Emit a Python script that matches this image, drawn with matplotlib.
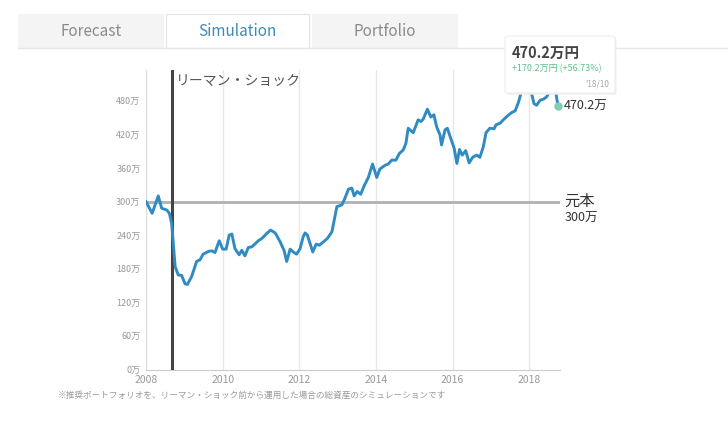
import matplotlib
matplotlib.use("Agg")
from matplotlib import pyplot as plt
from matplotlib.patches import Rectangle, FancyBboxPatch

plt.rcParams['font.family'] = ['Noto Sans CJK JP', 'DejaVu Sans']

# simulated total assets (万円)
years = [2008.00, 2008.16, 2008.32, 2008.41, 2008.54, 2008.61, 2008.67, 2008.76, 2008.84, 2008.93,
         2009.02, 2009.08, 2009.19, 2009.32, 2009.41, 2009.49, 2009.63, 2009.71, 2009.80, 2009.91,
         2010.00, 2010.09, 2010.17, 2010.24, 2010.32, 2010.43, 2010.50, 2010.58, 2010.67, 2010.76,
         2010.84, 2010.93, 2011.02, 2011.15, 2011.25, 2011.37, 2011.50, 2011.60, 2011.67, 2011.76,
         2011.84, 2011.93, 2012.02, 2012.10, 2012.15, 2012.21, 2012.35, 2012.44, 2012.52, 2012.63,
         2012.73, 2012.85, 2012.98, 2013.11, 2013.19, 2013.28, 2013.37, 2013.43, 2013.51, 2013.60,
         2013.69, 2013.80, 2013.91, 2014.02, 2014.10, 2014.24, 2014.32, 2014.41, 2014.52, 2014.61,
         2014.71, 2014.78, 2014.84, 2014.97, 2015.10, 2015.17, 2015.23, 2015.34, 2015.43, 2015.51,
         2015.58, 2015.67, 2015.71, 2015.80, 2015.86, 2015.95, 2016.04, 2016.11, 2016.18, 2016.25,
         2016.34, 2016.43, 2016.52, 2016.63, 2016.71, 2016.80, 2016.87, 2016.97, 2017.08, 2017.13,
         2017.24, 2017.32, 2017.43, 2017.54, 2017.63, 2017.72, 2017.78, 2017.89, 2017.97, 2018.02,
         2018.06, 2018.12, 2018.19, 2018.28, 2018.37, 2018.45, 2018.50, 2018.59, 2018.67, 2018.75]
values = [300, 279, 310, 288, 285, 279, 261, 184, 169, 168,
          153, 152, 166, 193, 196, 206, 211, 212, 209, 230,
          215, 215, 240, 242, 216, 205, 213, 203, 218, 219,
          224, 230, 234, 243, 249, 244, 228, 213, 193, 215,
          210, 206, 216, 237, 244, 240, 210, 224, 222, 228,
          234, 246, 291, 294, 306, 322, 324, 310, 318, 313,
          328, 343, 367, 343, 358, 365, 367, 374, 374, 386,
          392, 404, 431, 423, 446, 443, 447, 465, 451, 455,
          434, 419, 401, 428, 431, 413, 395, 368, 393, 383,
          391, 369, 379, 383, 379, 398, 423, 431, 430, 437,
          440, 446, 453, 459, 462, 478, 493, 513, 518, 500,
          493, 475, 472, 481, 483, 487, 493, 506, 503, 470.2]

principal = 300
lehman_year = 2008.67
x_ticks = [2008, 2010, 2012, 2014, 2016, 2018]
y_ticks = [0, 60, 120, 180, 240, 300, 360, 420, 480]
tabs = ["Forecast", "Simulation", "Portfolio"]
footnote = "※推奨ポートフォリオを、リーマン・ショック前から運用した場合の総資産のシミュレーションです"

W, H = 728, 422


def px(x, y):
    """pixel position -> figure fraction"""
    return x / W, 1 - y / H


fig = plt.figure(figsize=(W / 100, H / 100), dpi=100)

# tabs on top
tab_boxes = [(18, 164), (166, 309), (312, 458)]
fig.add_artist(plt.Line2D([18 / W, 1], [1 - 48 / H] * 2, color="#e6e6e6", lw=1,
                          transform=fig.transFigure))
for name, (x0, x1) in zip(tabs, tab_boxes):
    active = name == "Simulation"
    fx, fy = px(x0, 48)
    fig.add_artist(Rectangle((fx, fy), (x1 - x0) / W, 34 / H, transform=fig.transFigure,
                             facecolor="white" if active else "#f4f4f4",
                             edgecolor="#e3e3e3" if active else "none", lw=0.8))
    tx, ty = px((x0 + x1) / 2, 31)
    fig.text(tx, ty, name, ha="center", va="center", fontsize=11,
             color="#3d8ab8" if active else "#8a8a8a")

ax = fig.add_axes([146 / W, 1 - 369.5 / H, (560 - 146) / W, (369.5 - 70) / H])
ax.set_xlim(2008, 2018.8)
ax.set_ylim(0, 535)
for s in ["top", "right"]:
    ax.spines[s].set_visible(False)
ax.spines["left"].set_color("#dddddd")
ax.spines["bottom"].set_color("#cccccc")

ax.set_xticks(x_ticks)
ax.set_xticklabels([str(y) for y in x_ticks], fontsize=7.5, color="#999999")
ax.set_yticks(y_ticks)
ax.set_yticklabels([f"{v}万" for v in y_ticks], fontsize=6.5, color="#999999")
ax.tick_params(length=0, pad=4)
ax.grid(axis="x", color="#e8e8e8", lw=1)

ax.axhline(principal, color="#b0b0b0", lw=2, zorder=2)
ax.axvline(lehman_year, color="#444444", lw=2.2, zorder=3)
ax.text(lehman_year + 0.1, 528, "リーマン・ショック", fontsize=10, color="#555555",
        va="top", ha="left")

ax.plot(years, values, color="#2f8bc1", lw=2.1, zorder=4)
ax.plot(years[-1], values[-1], "o", ms=5, color="#7fcdb4", zorder=5, clip_on=False)

ax.annotate("元本", (2018.8, principal), xytext=(3, 0), textcoords="offset points",
            fontsize=11, color="#333333", va="center", annotation_clip=False)
ax.annotate(f"{principal}万", (2018.8, principal), xytext=(3, -12), textcoords="offset points",
            fontsize=9, color="#333333", va="center", annotation_clip=False)
ax.annotate(f"{values[-1]:.1f}万", (2018.8, values[-1]), xytext=(3, 0),
            textcoords="offset points", fontsize=9, color="#333333", va="center",
            annotation_clip=False)

# tooltip
bx, by = px(505, 93)
fig.add_artist(FancyBboxPatch((bx + 0.002, by - 0.004), 110 / W, 57 / H,
                              boxstyle="round,pad=0,rounding_size=0.004",
                              transform=fig.transFigure, facecolor="#eeeeee",
                              edgecolor="none", zorder=9))
fig.add_artist(FancyBboxPatch((bx, by), 110 / W, 57 / H,
                              boxstyle="round,pad=0,rounding_size=0.004",
                              transform=fig.transFigure, facecolor="white",
                              edgecolor="#eeeeee", lw=0.8, zorder=10))
gain = values[-1] - principal
tx, ty = px(512, 53)
fig.text(tx, ty, f"{values[-1]:.1f}万円", fontsize=10.5, fontweight="bold", color="#444444",
         va="center", zorder=11)
tx, ty = px(512, 69)
fig.text(tx, ty, f"+{gain:.1f}万円 (+{gain / principal * 100:.2f}%)", fontsize=6.5,
         color="#5fbf8f", va="center", zorder=11)
tx, ty = px(609, 84)
fig.text(tx, ty, "'18/10", fontsize=6, color="#aaaaaa", va="center", ha="right", zorder=11)

tx, ty = px(58, 395)
fig.text(tx, ty, footnote, fontsize=6.2, color="#999999", va="center")

fig.savefig("out.png", dpi=100)
